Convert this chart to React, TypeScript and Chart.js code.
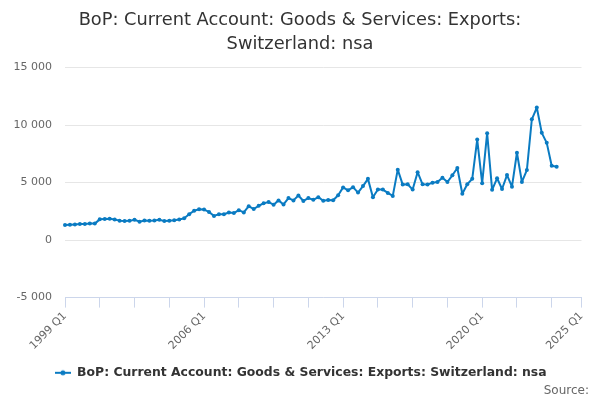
import React, { useEffect, useRef } from 'react';
import { Chart, registerables } from 'chart.js';

Chart.register(...registerables);

const titleLines = ['BoP: Current Account: Goods & Services: Exports:', 'Switzerland: nsa'];
const seriesName = 'BoP: Current Account: Goods & Services: Exports: Switzerland: nsa';
const sourceText = 'Source:';

// Category axis runs quarterly from 1999 Q1 to 2025 Q1
const firstYear = 1999;
const lastYear = 2025;
const quarterNames = ['Q1', 'Q2', 'Q3', 'Q4'];
const categories: string[] = [];
for (let y = firstYear; y <= lastYear; y++) {
  for (const q of quarterNames) {
    if (y === lastYear && q !== 'Q1') break;
    categories.push(`${y} ${q}`);
  }
}

// Series values (GBP million), 1999 Q1 – 2023 Q4
const values1999to2005 = [
  1300, 1330, 1360, 1390, 1400, 1450, 1430, 1800, 1830, 1860,
  1780, 1690, 1660, 1670, 1770, 1600, 1700, 1690, 1700, 1770,
  1650, 1690, 1720, 1780, 1900, 2250, 2550, 2680,
];
const values2006to2012 = [
  2650, 2450, 2100, 2250, 2250, 2400, 2350, 2600, 2400, 2950,
  2700, 2980, 3200, 3300, 3080, 3450, 3100, 3650, 3450, 3870,
  3400, 3650, 3500, 3730, 3420, 3480, 3460, 3900,
];
const values2013to2019 = [
  4580, 4320, 4600, 4130, 4690, 5320, 3720, 4390, 4390, 4100,
  3840, 6120, 4820, 4850, 4390, 5900, 4850, 4820, 4990, 5050,
  5420, 5050, 5630, 6260, 4030, 4850, 5320, 8740,
];
const values2020to2023 = [
  4950, 9290, 4370, 5370, 4440, 5650, 4640, 7590, 5050, 6080,
  10500, 11520, 9320, 8450, 6460, 6370,
];
const seriesValues = [
  ...values1999to2005,
  ...values2006to2012,
  ...values2013to2019,
  ...values2020to2023,
];

const xTickLabels = ['1999 Q1', '2006 Q1', '2013 Q1', '2020 Q1', '2025 Q1'];
const xTickStep = 7;
const yMin = -5000;
const yMax = 15000;
const yStep = 5000;

const LINE = '#0a7bc2';
const FONT = "'DejaVu Sans', Verdana, sans-serif";

function fmt(v: number): string {
  const s = Math.abs(v).toString().replace(/\B(?=(\d{3})+(?!\d))/g, ' ');
  return (v < 0 ? '-' : '') + s;
}

export default function App() {
  const ref = useRef<HTMLCanvasElement | null>(null);

  useEffect(() => {
    if (!ref.current) return;

    const sym = document.createElement('canvas');
    sym.width = 16;
    sym.height = 10;
    const sctx = sym.getContext('2d')!;
    sctx.strokeStyle = LINE;
    sctx.lineWidth = 2;
    sctx.beginPath();
    sctx.moveTo(0, 5);
    sctx.lineTo(16, 5);
    sctx.stroke();
    sctx.fillStyle = LINE;
    sctx.beginPath();
    sctx.arc(8, 5, 2.5, 0, Math.PI * 2);
    sctx.fill();

    const sourcePlugin = {
      id: 'sourceText',
      afterLayout(chart: any) {
        const lg = chart.legend;
        if (lg) {
          lg.left += 10;
          lg.right += 10;
        }
        const tb = chart.titleBlock;
        if (tb) {
          tb.left += 9.25;
          tb.right += 9.25;
        }
      },
      afterDraw(chart: any) {
        const c = chart.ctx;
        c.save();
        c.font = `12px ${FONT}`;
        c.fillStyle = '#666666';
        c.textAlign = 'right';
        c.textBaseline = 'middle';
        c.fillText(sourceText, 589, 391);
        c.restore();
      },
    };

    const chart = new Chart(ref.current, {
      type: 'line',
      data: {
        labels: categories,
        datasets: [
          {
            label: seriesName,
            data: seriesValues,
            borderColor: LINE,
            backgroundColor: LINE,
            borderWidth: 2,
            borderJoinStyle: 'round',
            borderCapStyle: 'round',
            pointRadius: 2,
            pointHoverRadius: 2,
            pointBackgroundColor: LINE,
            pointBorderWidth: 0,
            tension: 0,
          },
        ],
      },
      options: {
        responsive: false,
        animation: false,
        devicePixelRatio: 1,
        layout: { padding: { left: 0, right: 18.5, top: 0, bottom: 11 } },
        plugins: {
          title: {
            display: true,
            text: titleLines,
            color: '#333333',
            font: { family: FONT, size: 17.8, weight: 'normal', lineHeight: 24 / 17.8 },
            padding: { top: 8.5, bottom: 11 },
          },
          legend: {
            display: true,
            position: 'bottom',
            labels: {
              color: '#333333',
              font: { family: FONT, size: 12.4, weight: 'bold' },
              usePointStyle: true,
              pointStyleWidth: 16,
              padding: 8,
              generateLabels: (ch: any) => {
                const items = Chart.defaults.plugins.legend.labels.generateLabels(ch);
                items.forEach((it: any) => {
                  it.pointStyle = sym;
                });
                return items;
              },
            },
          },
          tooltip: { enabled: false },
        },
        scales: {
          x: {
            type: 'category',
            offset: false,
            afterFit: (scale: any) => {
              scale.height = 61;
            },
            afterBuildTicks: (scale: any) => {
              const t: { value: number }[] = [];
              for (let v = 0; v < categories.length - 1; v += xTickStep) t.push({ value: v });
              t.push({ value: categories.length - 1 });
              scale.ticks = t;
            },
            grid: {
              display: true,
              drawOnChartArea: false,
              drawTicks: true,
              tickLength: 10,
              color: '#ccd6eb',
            },
            border: { display: true, color: '#ccd6eb', width: 1 },
            ticks: {
              autoSkip: false,
              minRotation: 45,
              maxRotation: 45,
              padding: 2,
              color: '#666666',
              font: { family: FONT, size: 11 },
              callback: (value: any) => {
                const lab = categories[value as number];
                return xTickLabels.includes(lab) ? lab : '';
              },
            },
          },
          y: {
            min: yMin,
            max: yMax,
            afterFit: (scale: any) => {
              scale.width = 65;
            },
            grid: { color: '#e6e6e6', drawTicks: false },
            border: { display: false },
            ticks: {
              stepSize: yStep,
              padding: 13,
              color: '#666666',
              font: { family: FONT, size: 11 },
              callback: (v: any) => fmt(Number(v)),
            },
          },
        },
      },
      plugins: [sourcePlugin],
    });

    return () => chart.destroy();
  }, []);

  return (
    <div style={{ position: 'fixed', left: 0, top: 0, width: 600, height: 400, background: '#ffffff' }}>
      <canvas ref={ref} width={600} height={400} />
    </div>
  );
}
